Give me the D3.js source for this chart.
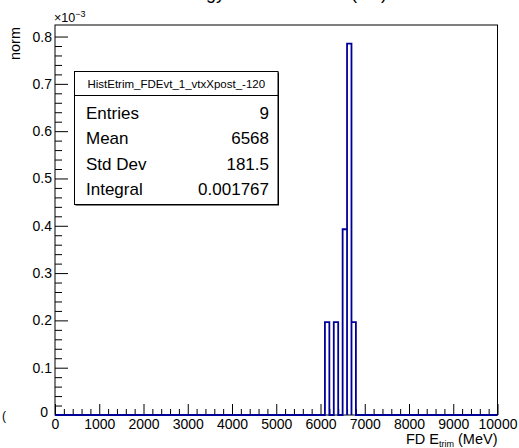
<!DOCTYPE html>
<html>
<head>
<meta charset="utf-8">
<script src="https://cdn.jsdelivr.net/npm/d3@7"></script>
<style>
  html, body { margin: 0; padding: 0; background: #fff; }
  svg { display: block; font-family: "Liberation Sans", Arial, sans-serif; }
</style>
</head>
<body>
<svg id="chart" width="519" height="448"></svg>
<script>
// Histogram: FD trimmed energy, normalised, 100 MeV bins over 0–10000 MeV
const xRange = [0, 10000];
const binWidth = 100;
const filledBinStarts = [6100, 6300, 6500, 6600, 6700];
const filledBinValues = [0.0001963, 0.0001963, 0.0003926, 0.0007852, 0.0001963];

const yRange = [0, 0.0008244];
const xTickValues = [0, 1000, 2000, 3000, 4000, 5000, 6000, 7000, 8000, 9000, 10000];
const yTickValues = [0, 0.0001, 0.0002, 0.0003, 0.0004, 0.0005, 0.0006, 0.0007, 0.0008];

const titleText = "Total Energy Reconstructed (FD)";
const statsName = "HistEtrim_FDEvt_1_vtxXpost_-120";
const statsLabels = ["Entries", "Mean", "Std Dev", "Integral"];
const statsValues = ["9", "6568", "181.5", "0.001767"];

const frame = { left: 55, right: 497.5, top: 25, bottom: 415 };
const lineColor = "#000099";

const svg = d3.select("#chart");
const x = d3.scaleLinear().domain(xRange).range([frame.left, frame.right]);
const y = d3.scaleLinear().domain(yRange).range([frame.bottom, frame.top]);

// Title (sits mostly above the canvas edge)
svg.append("text")
  .attr("x", 256).attr("y", -1)
  .attr("text-anchor", "middle")
  .attr("font-size", 18)
  .text(titleText);

// Frame
svg.append("rect")
  .attr("x", frame.left).attr("y", frame.top)
  .attr("width", frame.right - frame.left)
  .attr("height", frame.bottom - frame.top)
  .attr("fill", "none").attr("stroke", "#000").attr("stroke-width", 1);

// Build step outline across all bins
const points = [[xRange[0], 0]];
filledBinStarts.forEach((b, i) => {
  const v = filledBinValues[i];
  points.push([b, 0], [b, v], [b + binWidth, v], [b + binWidth, 0]);
});
points.push([xRange[1], 0]);

// Minor ticks
const xMinor = d3.range(xRange[0], xRange[1] + 1, 200).filter(v => v % 1000 !== 0);
const yMinor = d3.range(0, 0.00082, 0.00002).filter((v, i) => i % 5 !== 0);

const xMinorAxis = d3.axisBottom(x).tickValues(xMinor).tickSize(-6).tickFormat("");
svg.append("g").attr("transform", `translate(0,${frame.bottom})`).call(xMinorAxis)
  .call(g => g.select(".domain").remove());

const yMinorAxis = d3.axisLeft(y).tickValues(yMinor).tickSize(-7).tickFormat("");
svg.append("g").attr("transform", `translate(${frame.left},0)`).call(yMinorAxis)
  .call(g => g.select(".domain").remove());

// Major axes
const xAxis = d3.axisBottom(x).tickValues(xTickValues).tickSize(-11).tickPadding(4)
  .tickFormat(d3.format("d"));
svg.append("g").attr("transform", `translate(0,${frame.bottom})`).call(xAxis)
  .call(g => g.select(".domain").remove())
  .call(g => g.selectAll("text").attr("font-size", 14).attr("fill", "#000")
    .attr("font-family", "Liberation Sans, Arial, sans-serif"));

const yAxis = d3.axisLeft(y).tickValues(yTickValues).tickSize(-13).tickPadding(3)
  .tickFormat(d => d === 0 ? "0" : d3.format(".1f")(d * 1000));
svg.append("g").attr("transform", `translate(${frame.left},0)`).call(yAxis)
  .call(g => g.select(".domain").remove())
  .call(g => g.selectAll("text").attr("font-size", 14).attr("fill", "#000")
    .attr("font-family", "Liberation Sans, Arial, sans-serif"));

// Zero label on the vertical axis sits a little off the corner
svg.selectAll(".tick text").filter(d => d === 0).each(function() {
  const t = d3.select(this);
  if (t.attr("x") !== null && +t.attr("x") < 0) t.attr("dy", "0.1em").attr("x", -7);
});

svg.selectAll(".tick line").attr("stroke", "#000");

// Histogram outline
const line = d3.line().x(d => x(d[0])).y(d => y(d[1]));
svg.append("path")
  .attr("d", line(points))
  .attr("fill", "none")
  .attr("stroke", lineColor)
  .attr("stroke-width", 1.8)
  .attr("stroke-linejoin", "miter");

// Exponent marker
const expo = svg.append("text").attr("x", 54).attr("y", 22).attr("font-size", 12.5);
expo.append("tspan").text("\u00d710");
expo.append("tspan").attr("dy", -5).attr("font-size", 9).text("\u22123");

// Axis titles
svg.append("text")
  .attr("transform", `translate(20,27) rotate(-90)`)
  .attr("text-anchor", "end")
  .attr("font-size", 14.5)
  .text("norm");

const xt = svg.append("text")
  .attr("x", frame.right).attr("y", 444)
  .attr("text-anchor", "end")
  .attr("font-size", 14.5);
xt.append("tspan").text("FD E");
xt.append("tspan").attr("dy", 3).attr("font-size", 9).text("trim");
xt.append("tspan").attr("dy", -3).text(" (MeV)");

svg.append("text").attr("x", 2).attr("y", 420).attr("font-size", 12).text("(");

// Statistics box
const box = { x: 74.5, y: 71.5, w: 203.5, h: 133, header: 24 };
svg.append("rect")
  .attr("x", box.x + 1).attr("y", box.y + 1).attr("width", box.w).attr("height", box.h)
  .attr("fill", "#000");
svg.append("rect")
  .attr("x", box.x).attr("y", box.y).attr("width", box.w).attr("height", box.h)
  .attr("fill", "#fff").attr("stroke", "#000").attr("stroke-width", 1);
svg.append("line")
  .attr("x1", box.x).attr("x2", box.x + box.w)
  .attr("y1", box.y + box.header).attr("y2", box.y + box.header)
  .attr("stroke", "#000");
svg.append("text")
  .attr("x", box.x + box.w / 2).attr("y", box.y + 16.5)
  .attr("text-anchor", "middle").attr("font-size", 11.5)
  .text(statsName);
statsLabels.forEach((lab, i) => {
  const yy = box.y + 47 + i * 25.5;
  svg.append("text").attr("x", box.x + 11.5).attr("y", yy)
    .attr("font-size", 17).text(lab);
  svg.append("text").attr("x", box.x + box.w - 9).attr("y", yy)
    .attr("text-anchor", "end").attr("font-size", 17).text(statsValues[i]);
});
</script>
</body>
</html>
